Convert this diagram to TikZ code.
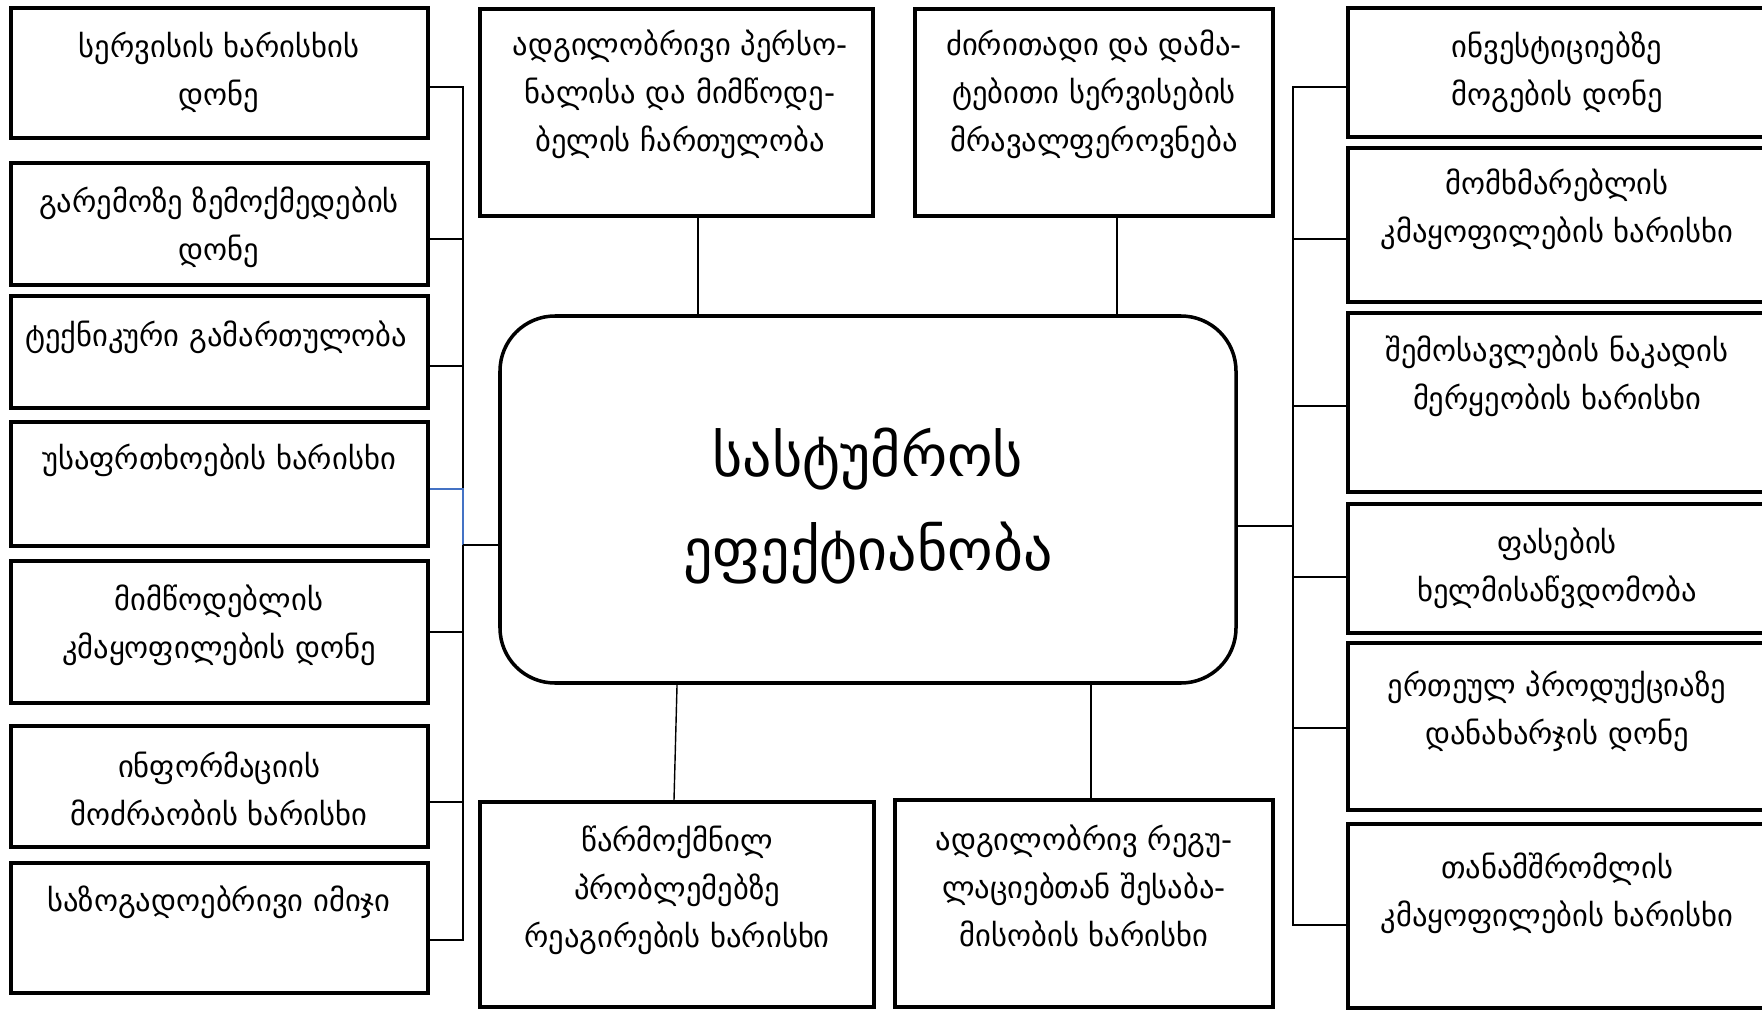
\documentclass[tikz,border=0pt]{standalone}
\usepackage{fontspec}
\setmainfont{DejaVu Sans}
\usepackage{xcolor}
\usepackage{tikz}
\usetikzlibrary{calc, positioning, fit}
\definecolor{lnblue}{HTML}{4472C4}

\begin{document}
\begin{tikzpicture}[x=0.02cm, y=-0.02cm,
    box/.style={draw, line width=2.2pt, inner sep=0pt},
    txt/.style={align=center, inner sep=0pt, font=\fontsize{17.4}{27.3}\selectfont},
    bigtxt/.style={align=center, inner sep=0pt, font=\fontsize{33}{53}\selectfont},
    ln/.style={line width=0.8pt}]
    \useasboundingbox (0,0) rectangle (1762,1010);
    \clip (0,0) rectangle (1762,1010);

    % Ცენტრალური ბლოკი
    \node[box, line width=2pt, rounded corners=1.1cm, fit={(500,316) (1236,683)}] (C) {};
    \node[bigtxt] (Ct) at (868,506) {სასტუმროს\\ეფექტიანობა};

    % მარცხენა სვეტი
    \node[box, fit={(11,8) (428,138)}] (L1) {};
    \node[txt] (L1t) at (219,72) {სერვისის ხარისხის\\დონე};
    \node[box, fit={(11,163) (428,285)}] (L2) {};
    \node[txt] (L2t) at (219,227) {გარემოზე ზემოქმედების\\დონე};
    \node[box, fit={(11,296) (428,408)}] (L3) {};
    \node[txt] (L3t) at (216,337) {ტექნიკური გამართულობა};
    \node[box, fit={(11,422) (428,546)}] (L4) {};
    \node[txt] (L4t) at (219,460) {უსაფრთხოების ხარისხი};
    \node[box, fit={(11,561) (428,703)}] (L5) {};
    \node[txt] (L5t) at (219,625) {მიმწოდებლის\\კმაყოფილების დონე};
    \node[box, fit={(11,726) (428,847)}] (L6) {};
    \node[txt] (L6t) at (219,789) {ინფორმაციის\\მოძრაობის ხარისხი};
    \node[box, fit={(11,863) (428,993)}] (L7) {};
    \node[txt] (L7t) at (219,902) {საზოგადოებრივი იმიჯი};

    % ზედა და ქვედა ბლოკები
    \node[box, fit={(480,9) (873,216)}] (T1) {};
    \node[txt] (T1t) at (680,94) {ადგილობრივი პერსო-\\ნალისა და მიმწოდე-\\ბელის ჩართულობა};
    \node[box, fit={(915,9) (1273,216)}] (T2) {};
    \node[txt] (T2t) at (1094,94) {ძირითადი და დამა-\\ტებითი სერვისების\\მრავალფეროვნება};
    \node[box, fit={(480,802) (874,1007)}] (B1) {};
    \node[txt] (B1t) at (677,890) {წარმოქმნილ\\პრობლემებზე\\რეაგირების ხარისხი};
    \node[box, fit={(895,800) (1273,1007)}] (B2) {};
    \node[txt] (B2t) at (1084,886) {ადგილობრივ რეგუ-\\ლაციებთან შესაბა-\\მისობის ხარისხი};

    % მარჯვენა სვეტი
    \node[box, fit={(1348,8) (1768,137)}] (R1) {};
    \node[txt] (R1t) at (1557,72) {ინვესტიციებზე\\მოგების დონე};
    \node[box, fit={(1348,148) (1768,302)}] (R2) {};
    \node[txt] (R2t) at (1557,209) {მომხმარებლის\\კმაყოფილების ხარისხი};
    \node[box, fit={(1348,313) (1768,492)}] (R3) {};
    \node[txt] (R3t) at (1557,376) {შემოსავლების ნაკადის\\მერყეობის ხარისხი};
    \node[box, fit={(1348,504) (1768,633)}] (R4) {};
    \node[txt] (R4t) at (1557,568) {ფასების\\ხელმისაწვდომობა};
    \node[box, fit={(1348,643) (1768,810)}] (R5) {};
    \node[txt] (R5t) at (1557,711) {ერთეულ პროდუქციაზე\\დანახარჯის დონე};
    \node[box, fit={(1348,824) (1768,1008)}] (R6) {};
    \node[txt] (R6t) at (1557,893) {თანამშრომლის\\კმაყოფილების ხარისხი};

    % შემაერთებელი ხაზები
    \coordinate (lt) at (463,87);
    \coordinate (lj) at (463,545);
    \draw[ln] ([yshift=-0.28cm]L1.east) -| (lt);
    \draw[ln] ([yshift=-0.30cm]L2.east) -| (lt);
    \draw[ln] ([yshift=-0.28cm]L3.east) -| (lt);
    \draw[ln] (L5.east) -| (lt);
    \draw[ln] ([yshift=-0.31cm]L6.east) -| (lt);
    \draw[ln] ([yshift=-0.24cm]L7.east) -| (lt);
    \draw[ln, lnblue] ([yshift=-0.1cm]L4.east) -| (lj);
    \draw[ln, line width=1.2pt] (lj) -- (lj -| C.west);

    \coordinate (rt) at (1293,87);
    \coordinate (rj) at (1293,526);
    \draw[ln] ([yshift=-0.29cm]R1.west) -| (rt);
    \draw[ln] ([yshift=-0.28cm]R2.west) -| (rt);
    \draw[ln] ([yshift=-0.07cm]R3.west) -| (rt);
    \draw[ln] ([yshift=-0.17cm]R4.west) -| (rt);
    \draw[ln] ([yshift=-0.03cm]R5.west) -| (rt);
    \draw[ln] ([yshift=-0.18cm]R6.west) -| (rt);
    \draw[ln, line width=1.6pt] (rj) -- (rj -| C.east);

    \draw[ln] ([xshift=0.43cm]T1.south) coordinate (t1) -- (t1 |- C.north);
    \draw[ln] ([xshift=0.46cm]T2.south) coordinate (t2) -- (t2 |- C.north);
    \draw[ln] ([xshift=-3.82cm]C.south) -- ([xshift=-0.06cm]B1.north);
    \draw[ln] ([xshift=0.14cm]B2.north) coordinate (b2) -- (b2 |- C.south);
\end{tikzpicture}
\end{document}
